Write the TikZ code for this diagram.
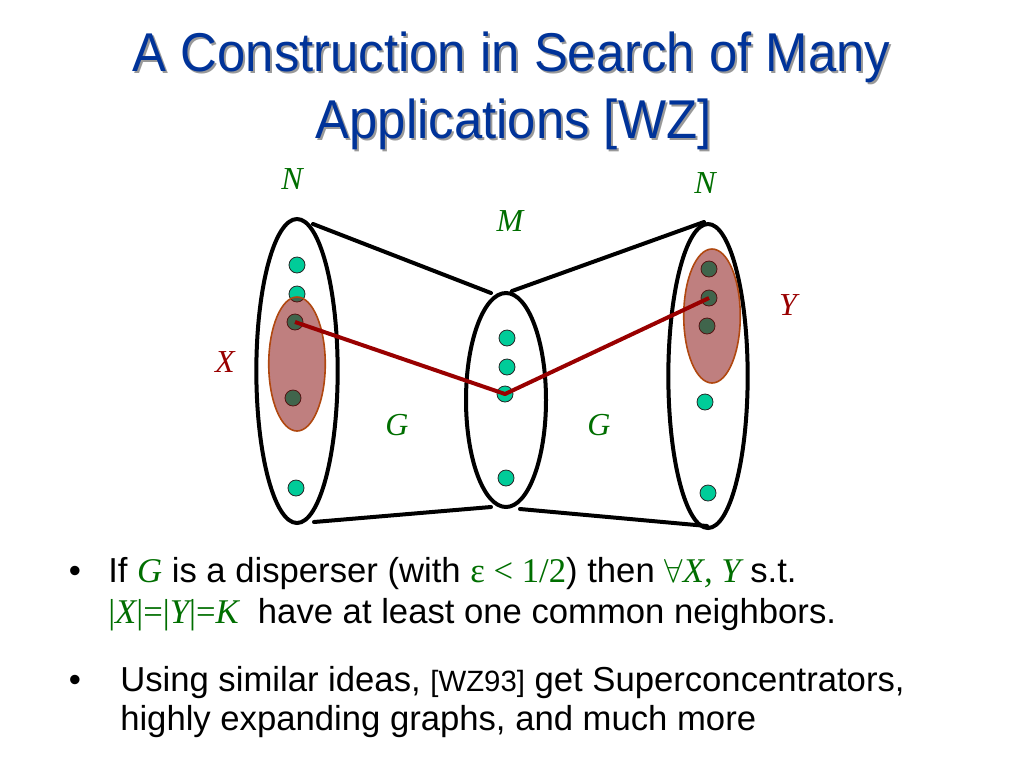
\documentclass[tikz,border=0pt]{standalone}
\usepackage{fontspec}
\setmainfont{Liberation Sans}
\newfontfamily\titlefont{Liberation Sans}[FakeStretch=0.93]
\newfontfamily\timesfont{Liberation Serif}
\usetikzlibrary{shapes.geometric}
\definecolor{titleblue}{RGB}{0,51,153}
\definecolor{setgreen}{RGB}{0,110,0}
\definecolor{edgered}{RGB}{153,0,0}
\definecolor{dotcyan}{RGB}{0,204,153}
\definecolor{blobfill}{RGB}{128,0,0}
\definecolor{blobline}{RGB}{176,72,16}
\newcommand{\gr}[1]{{\color{setgreen}\timesfont #1}}
\tikzset{
  titletext/.style={font=\titlefont\fontsize{41}{41}\selectfont,anchor=base,inner sep=0pt},
  bodytext/.style={font=\fontsize{26}{26}\selectfont,anchor=base west,inner sep=0pt},
  bigset/.style={ellipse,draw=black,line width=3pt,inner sep=0pt},
  blob/.style={ellipse,draw=blobline,line width=1.2pt,fill=blobfill,fill opacity=0.5,inner sep=0pt,
    minimum width=42.4pt,minimum height=100.5pt},
  dot/.style={circle,draw=black!85,line width=0.6pt,fill=dotcyan,minimum size=12pt,inner sep=0pt},
  setlabel/.style={font=\timesfont\itshape\fontsize{24}{24}\selectfont,inner sep=0pt},
  side/.style={line width=3pt,line cap=round},
  hit/.style={line width=3pt,draw=edgered,line join=round}
}
\begin{document}
\begin{tikzpicture}[x=0.75pt,y=-0.75pt]
  \useasboundingbox (0,0) rectangle (1024,768);
  % title with shadow
  \node[titletext,text=black!40] (titleshadowa) at (513.5,73) {A Construction in Search of Many};
  \node[titletext,text=black!40] (titleshadowb) at (515.5,140) {Applications [WZ]};
  \node[titletext,text=titleblue] (titlea) at (511.5,71) {A Construction in Search of Many};
  \node[titletext,text=titleblue] (titleb) at (513.5,138) {Applications [WZ]};
  % the three sets
  \node[bigset,minimum width=61pt,minimum height=228pt] (leftset) at (297,371) {};
  \node[bigset,minimum width=60pt,minimum height=160.5pt] (midset) at (506,400) {};
  \node[bigset,minimum width=59.5pt,minimum height=228pt] (rightset) at (708,376) {};
  \coordinate (ltop) at (313,224);
  \coordinate (lbot) at (314,522);
  \coordinate (mtopl) at (491,293);
  \coordinate (mbotl) at (491,507);
  \coordinate (mtopr) at (512,291);
  \coordinate (mbotr) at (520,509);
  \coordinate (rtop) at (704,222);
  \coordinate (rbot) at (707,526);
  \begin{scope}[side]
    \draw (ltop) -- (mtopl);
    \draw (lbot) -- (mbotl);
    \draw (mtopr) -- (rtop);
    \draw (mbotr) -- (rbot);
  \end{scope}
  % vertices
  \node[dot] (l1) at (297,265) {};
  \node[dot] (l2) at (297,294) {};
  \node[dot] (l3) at (295,322) {};
  \node[dot] (l4) at (293,398) {};
  \node[dot] (l5) at (296,488) {};
  \node[dot] (m1) at (507,338) {};
  \node[dot] (m2) at (507,367) {};
  \node[dot] (m3) at (505,394) {};
  \node[dot] (m4) at (506,478) {};
  \node[dot] (r1) at (709,269) {};
  \node[dot] (r2) at (709,298) {};
  \node[dot] (r3) at (707,326) {};
  \node[dot] (r4) at (705,402) {};
  \node[dot] (r5) at (708,493) {};
  % the sets X and Y
  \node[blob] (xset) at (297,364) {};
  \node[blob] (yset) at (712,316) {};
  \draw[hit] (l3.center) -- (m3.center) -- (r2.center);
  % labels
  \node[setlabel,text=setgreen] (nleft) at (292,179) {N};
  \node[setlabel,text=setgreen] (nright) at (705,183) {N};
  \node[setlabel,text=setgreen] (mlabel) at (510,221) {M};
  \node[setlabel,text=setgreen] (gleft) at (397,425) {G};
  \node[setlabel,text=setgreen] (gright) at (599,425) {G};
  \node[setlabel,text=edgered] (xlabel) at (225,362) {X};
  \node[setlabel,text=edgered] (ylabel) at (788,305) {Y};
  % bullets
  \node[bodytext,anchor=base] (bula) at (75,582) {•};
  \node[bodytext] (linea) at (108,582) {If \gr{\itshape G} is a disperser (with \gr{ε < 1/2}) then \gr{$\forall$\itshape X, Y} s.t.};
  \node[bodytext] (lineb) at (108,623) {\gr{|\itshape X\upshape|=|\itshape Y\upshape|=\itshape K}\ \ have at least one common neighbors.};
  \node[bodytext,anchor=base] (bulb) at (75,691) {•};
  \node[bodytext] (linec) at (120,691) {Using similar ideas, {\fontsize{22}{22}\selectfont [WZ93]} get Superconcentrators,};
  \node[bodytext] (lined) at (120,730) {highly expanding graphs, and much more};
\end{tikzpicture}
\end{document}
